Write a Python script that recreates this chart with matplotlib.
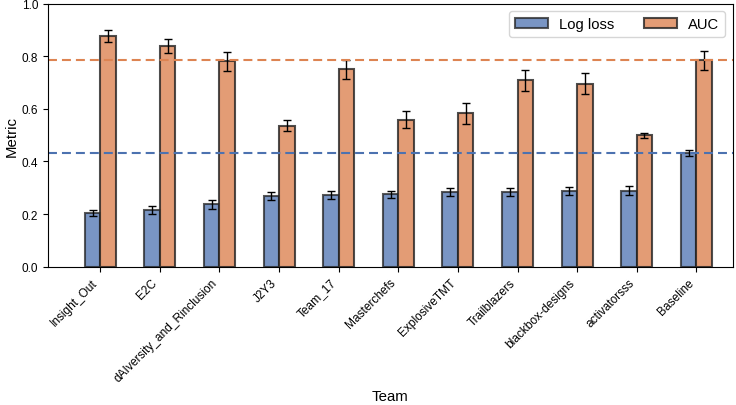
import numpy as np
import matplotlib.pyplot as plt

plt.rcParams['font.family'] = ['Liberation Sans', 'DejaVu Sans']

# Team scores (mean and error)
teams = ['Insight_Out', 'E2C', 'dAIversity_and_Rinclusion', 'J2Y3', 'Team_17',
         'Masterchefs', 'ExplosiveTMT', 'Trailblazers', 'blackbox-designs',
         'activatorsss', 'Baseline']
log_loss = [0.203, 0.216, 0.238, 0.269, 0.271, 0.275, 0.283, 0.285, 0.288, 0.289, 0.431]
log_loss_err = [0.011, 0.015, 0.017, 0.014, 0.015, 0.013, 0.015, 0.015, 0.015, 0.016, 0.012]
auc = [0.877, 0.839, 0.781, 0.536, 0.751, 0.559, 0.583, 0.709, 0.696, 0.500, 0.785]
auc_err = [0.023, 0.026, 0.036, 0.021, 0.037, 0.032, 0.041, 0.039, 0.039, 0.010, 0.035]

blue = '#4C72B0'
orange = '#DD8452'
width = 0.26

fig = plt.figure(figsize=(7.36, 4.06), dpi=100)
ax = fig.add_axes([0.065, 0.341, 0.9305, 0.647])

x = np.arange(len(teams))
err_kw = dict(ecolor='black', elinewidth=1.0, capsize=3, capthick=1.0)
ax.bar(x - width / 2, log_loss, width, yerr=log_loss_err, color=blue, alpha=0.75,
       edgecolor='#222222', linewidth=1.5, label='Log loss', error_kw=err_kw)
ax.bar(x + width / 2, auc, width, yerr=auc_err, color=orange, alpha=0.8,
       edgecolor='#222222', linewidth=1.5, label='AUC', error_kw=err_kw)

# baseline reference lines
ax.axhline(log_loss[-1], color=blue, linestyle='--', linewidth=1.5, dashes=(4.3, 2.4))
ax.axhline(auc[-1], color=orange, linestyle='--', linewidth=1.5, dashes=(4.3, 2.4))

ax.set_xlim(-0.88, 10.61)
ax.set_ylim(0, 1.0)
ax.set_xticks(x)
ax.set_xticklabels(teams, rotation=45, ha='right', fontsize=8.6)
ax.tick_params(axis='y', labelsize=8.5)
ax.set_xlabel('Team', fontsize=10.8, labelpad=4)
ax.set_ylabel('Metric', fontsize=10.8, labelpad=2)
ax.legend(loc='upper right', ncol=2, fontsize=10.6, columnspacing=2.0, handlelength=2.2)

fig.savefig('out.png', dpi=100)
